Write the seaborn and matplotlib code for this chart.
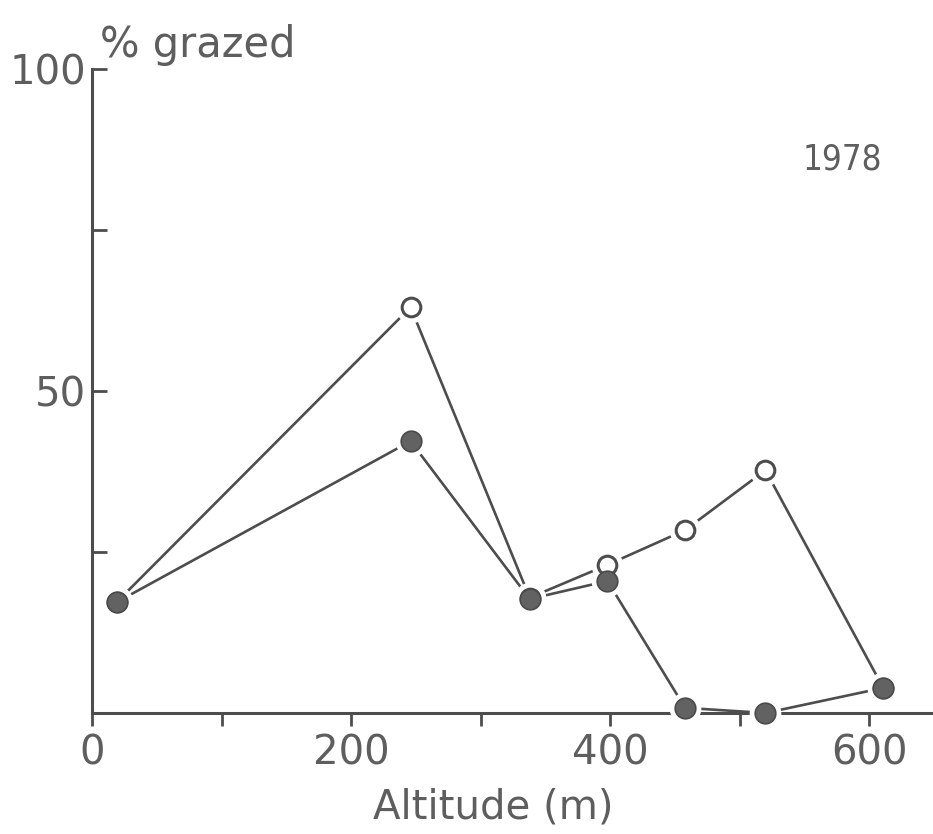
import numpy as np
import pandas as pd
import matplotlib
matplotlib.use('Agg')
import matplotlib.pyplot as plt
import seaborn as sns

## Data
altitude = [19, 246, 338, 398, 458, 520, 611]
open_grazed = [17.2, 63.0, 17.9, 23.0, 28.4, 37.7, 3.9]
filled_grazed = [17.2, 42.2, 17.7, 20.5, 0.8, 0.0, 3.9]
x_ticks = [0, 100, 200, 300, 400, 500, 600]
x_labels = ['0', '', '200', '', '400', '', '600']
y_ticks = [25, 50, 75, 100]
y_labels = ['', '50', '', '100']

df = pd.DataFrame({
    'Altitude': altitude * 2,
    'grazed': open_grazed + filled_grazed,
    'serie': ['open'] * len(altitude) + ['filled'] * len(altitude),
})

sns.set_style('white')
plt.rcParams['font.family'] = ['DejaVu Sans']
ink = '#4d4d4d'
txt = '#5e5e5e'

fig = plt.figure(figsize=(9.33, 8.34), dpi=100)
ax = fig.add_axes([92 / 933, 121 / 834, (933 - 92) / 933, 644 / 834])

# linhas
sns.lineplot(data=df, x='Altitude', y='grazed', hue='serie', palette={'open': ink, 'filled': ink},
             linewidth=1.9, legend=False, ax=ax, sort=False, zorder=2)
# halo branco em volta dos pontos
sns.scatterplot(data=df, x='Altitude', y='grazed', color='white', s=520, linewidth=0,
                legend=False, ax=ax, zorder=3, clip_on=False)
# pontos
op = df[df['serie'] == 'open']
fi = df[df['serie'] == 'filled']
sns.scatterplot(data=op, x='Altitude', y='grazed', facecolor='white', edgecolor=ink, s=180,
                linewidth=2.2, legend=False, ax=ax, zorder=4, clip_on=False)
sns.scatterplot(data=fi, x='Altitude', y='grazed', color='#626262', edgecolor='#4a4a4a', s=220,
                linewidth=1.2, legend=False, ax=ax, zorder=5, clip_on=False)

ax.set_xlim(0, (933 - 92) / 1.295)
ax.set_ylim(0, 100)
sns.despine(ax=ax)
for s in ['left', 'bottom']:
    ax.spines[s].set_linewidth(2.2)
    ax.spines[s].set_color(ink)

ax.set_xticks(x_ticks)
ax.set_xticklabels(x_labels)
ax.set_yticks(y_ticks)
ax.set_yticklabels(y_labels)
ax.tick_params(axis='x', bottom=True, direction='out', length=9, width=2, color=ink, labelsize=29,
               labelcolor=txt, pad=6)
ax.tick_params(axis='y', left=True, direction='in', length=11, width=2, color=ink, labelsize=29,
               labelcolor=txt, pad=4)
ax.set_xlabel('Altitude (m)', fontsize=29, color=txt)
ax.xaxis.set_label_coords(0.477, -0.115)
ax.set_ylabel('')
ax.text(0.01, 1.005, '% grazed', transform=ax.transAxes, fontsize=30, color=txt,
        ha='left', va='bottom')
ax.text(0.892, 0.86, '1978', transform=ax.transAxes, fontsize=25, color=txt,
        ha='center', va='center', fontstretch='condensed')

fig.savefig('out.png', dpi=100, facecolor='white')
